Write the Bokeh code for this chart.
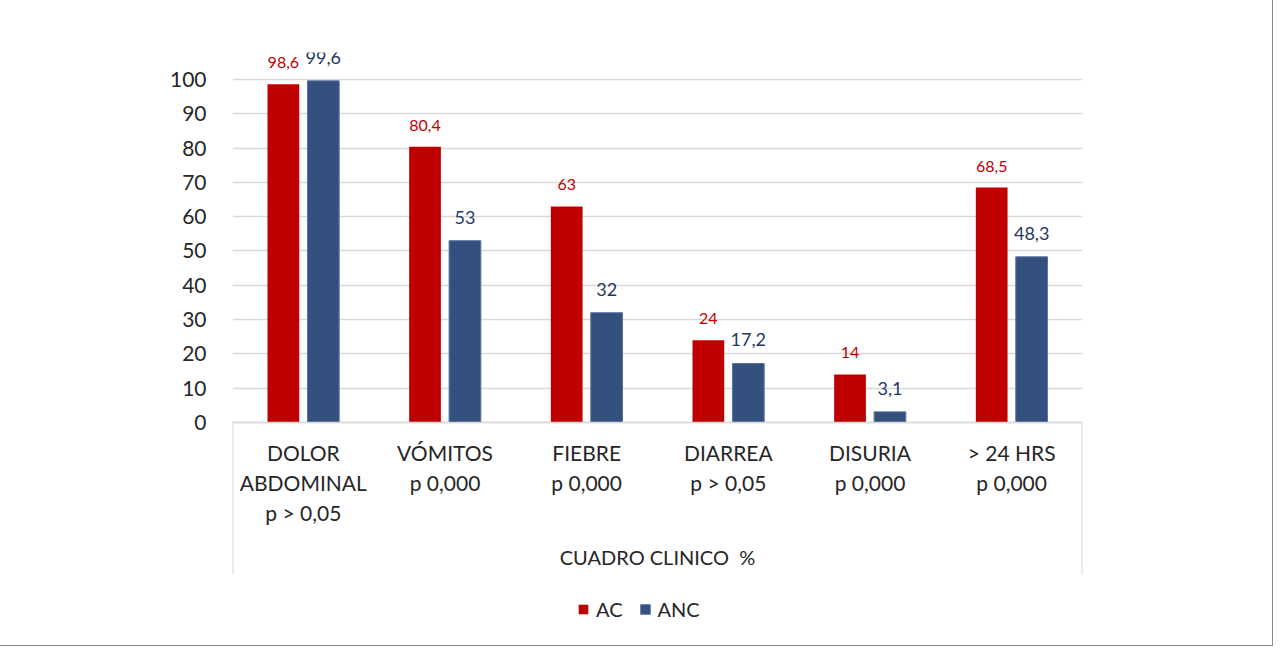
from bokeh.plotting import figure
from bokeh.models import FactorRange, Range1d, FixedTicker, ColumnDataSource, Legend, LegendItem
from bokeh.transform import dodge
from bokeh.core.properties import value
from bokeh.embed import file_html
from bokeh.resources import INLINE

# ---- data ----
categories = [
    "DOLOR\nABDOMINAL\np > 0,05",
    "VÓMITOS\np 0,000",
    "FIEBRE\np 0,000",
    "DIARREA\np > 0,05",
    "DISURIA\np 0,000",
    "> 24 HRS\np 0,000",
]
ac = [98.6, 80.4, 63, 24, 14, 68.5]
anc = [99.6, 53, 32, 17.2, 3.1, 48.3]
y_ticks = [0, 10, 20, 30, 40, 50, 60, 70, 80, 90, 100]
series_names = ["AC", "ANC"]
x_title = "CUADRO CLINICO \u00a0%"


def fmt(v):
    return f"{v:g}".replace(".", ",")


src = ColumnDataSource(dict(
    cat=categories,
    ac=ac,
    anc=anc,
    ac_lbl=[fmt(v) for v in ac],
    anc_lbl=[fmt(v) for v in anc],
))

RED = "#C00000"
BLUE = "#34507F"
FONT = "Lato"

p = figure(
    x_range=FactorRange(*categories, range_padding=0),
    y_range=Range1d(-63.56, 107.87),
    width=1272, height=645,
    output_backend="svg", toolbar_location=None,
    min_border_left=232, min_border_right=190,
    min_border_top=52, min_border_bottom=5,
)
p.styles = {"box-shadow": "0 0 0 1px #8a8a8a"}
p.outline_line_color = None
p.background_fill_color = "white"
p.border_fill_color = "white"

# grid
p.xgrid.grid_line_color = None
p.ygrid.ticker = FixedTicker(ticks=y_ticks)
p.ygrid.grid_line_color = "#d9d9d9"
p.ygrid.grid_line_width = 1.5

# y axis
p.yaxis.ticker = FixedTicker(ticks=y_ticks)
p.yaxis.axis_line_color = None
p.yaxis.major_tick_line_color = None
p.yaxis.minor_tick_line_color = None
p.yaxis.major_label_text_font = FONT
p.yaxis.major_label_text_font_size = "21px"
p.yaxis.major_label_text_color = "#262626"
p.yaxis.major_label_standoff = 20

# x axis placed at y = 0 inside the frame
p.xaxis.fixed_location = 0
p.xaxis.axis_line_color = "#d9d9d9"
p.xaxis.axis_line_width = 1.5
p.xaxis.major_tick_line_color = None
p.xaxis.minor_tick_line_color = None
p.xaxis.major_label_text_font = FONT
p.xaxis.major_label_text_font_size = "21px"
p.xaxis.major_label_text_color = "#262626"
p.xaxis.major_label_text_line_height = 1.19
p.xaxis.major_label_standoff = 12
p.xaxis.major_label_orientation = "horizontal"
p.xaxis.axis_label = x_title
p.xaxis.axis_label_text_font = FONT
p.xaxis.axis_label_text_font_size = "20px"
p.xaxis.axis_label_text_font_style = "normal"
p.xaxis.axis_label_text_color = "#262626"
p.xaxis.axis_label_standoff = 17

# category box side lines
p.segment(x0=[0, len(categories)], y0=[0, 0], x1=[0, len(categories)], y1=[-44.3, -44.3],
          line_color="#d9d9d9", line_width=2)

# bars
r_ac = p.vbar(x=dodge("cat", -0.141, range=p.x_range), top="ac", width=0.224,
              source=src, fill_color=RED, line_color=None)
r_anc = p.vbar(x=dodge("cat", 0.141, range=p.x_range), top="anc", width=0.224,
               source=src, fill_color=BLUE, line_color="#5a73a0", line_width=1)

# data labels
p.text(x=dodge("cat", -0.141, range=p.x_range), y="ac", text="ac_lbl", source=src,
       text_align="center", text_baseline="middle", y_offset=-21.5,
       text_font=value(FONT), text_font_size="16px", text_color=RED)
p.text(x=dodge("cat", 0.141, range=p.x_range), y="anc", text="anc_lbl", source=src,
       text_align="center", text_baseline="middle", y_offset=-23.5,
       text_font=value(FONT), text_font_size="18px", text_color="#1F3864")

legend = Legend(
    items=[LegendItem(label=series_names[0], renderers=[r_ac]),
           LegendItem(label=series_names[1], renderers=[r_anc])],
    orientation="horizontal", location=(345, 19),
    glyph_width=12, glyph_height=12, label_standoff=7, spacing=16,
    padding=0, margin=0, label_height=20,
    label_text_font=FONT, label_text_font_size="20px", label_text_color="#262626",
    background_fill_alpha=0, border_line_color=None,
)
p.add_layout(legend)

open("out.html", "w").write(file_html(p, INLINE))
